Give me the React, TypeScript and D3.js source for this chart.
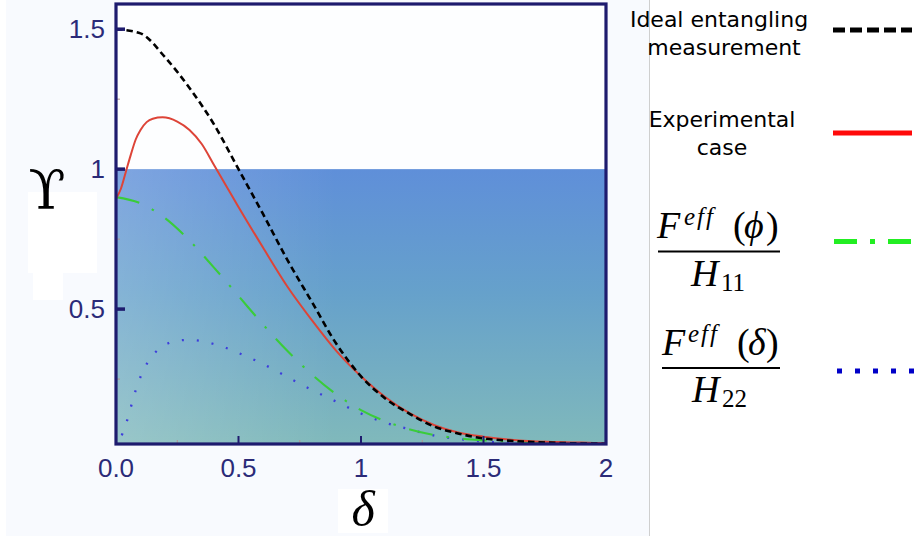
import React from 'react';
import * as d3 from 'd3';

// ---------- data ----------
const xTickValues = [0, 0.5, 1, 1.5, 2];
const xTickLabels = ['0.0', '0.5', '1', '1.5', '2'];
const xMinorTicks = [0.25, 0.75, 1.25, 1.75];
const yTickValues = [0.5, 1, 1.5];
const yTickLabels = ['0.5', '1', '1.5'];
const yMinorTicks = [0.25, 0.75, 1.25];
const classicalBound = 1;

// δ grid shared by the ideal (black) and F(φ)/H11 (green) curves
const gridDelta = [0, 0.1, 0.2, 0.3, 0.4, 0.5, 0.6, 0.7, 0.8, 0.9, 1.0, 1.1, 1.2, 1.3, 1.4, 1.5, 1.6, 1.7, 1.8, 1.9, 2.0];
const idealUpsilon = [1.5, 1.485, 1.4, 1.29, 1.16, 1.0, 0.84, 0.675, 0.525, 0.375, 0.26, 0.18, 0.125, 0.08, 0.055, 0.038, 0.03, 0.025, 0.022, 0.02, 0.019];
const phiUpsilon = [0.9, 0.878, 0.825, 0.745, 0.648, 0.547, 0.445, 0.35, 0.266, 0.195, 0.139, 0.099, 0.07, 0.05, 0.038, 0.031, 0.027, 0.024, 0.022, 0.021, 0.02];

// experimental case (red)
const expDelta = [0, 0.02, 0.04, 0.06, 0.08, 0.1, 0.125, 0.15, 0.19, 0.25, 0.3, 0.35, 0.4, 0.45, 0.5, 0.6, 0.7, 0.8, 0.9, 1.0, 1.1, 1.2, 1.3, 1.4, 1.5, 1.6, 1.7, 1.8, 1.9, 2.0];
const expUpsilon = [0.895, 0.93, 0.99, 1.05, 1.105, 1.14, 1.168, 1.18, 1.185, 1.17, 1.14, 1.09, 1.015, 0.94, 0.865, 0.72, 0.58, 0.46, 0.35, 0.26, 0.185, 0.127, 0.085, 0.058, 0.044, 0.034, 0.028, 0.025, 0.023, 0.021];

// F(δ)/H22 (blue)
const dDelta = [0, 0.015, 0.03, 0.05, 0.07, 0.09, 0.11, 0.15, 0.2, 0.25, 0.3, 0.35, 0.4, 0.45, 0.5, 0.6, 0.7, 0.8, 0.9, 1.0, 1.1, 1.2, 1.3, 1.4, 1.5, 1.6, 1.7, 1.8, 2.0];
const dUpsilon = [0.0, 0.03, 0.064, 0.115, 0.18, 0.235, 0.278, 0.335, 0.372, 0.387, 0.39, 0.386, 0.375, 0.361, 0.343, 0.304, 0.257, 0.211, 0.169, 0.127, 0.094, 0.07, 0.048, 0.036, 0.027, 0.022, 0.02, 0.019, 0.018];

const legendLine1 = ['Ideal entangling', 'measurement'];
const legendLine2 = ['Experimental', 'case'];

// ---------- layout ----------
const W = 914;
const H = 536;
const L = 116, R = 606, T = 4, B = 444;
const navy = '#1e1b6e';
const labelColor = '#2b2a78';

export default function App() {
  const x = d3.scaleLinear().domain([0, 2]).range([L, R]);
  const y = d3.scaleLinear().domain([0.018, 1.59]).range([B, T]);

  const line = d3.line<[number, number]>()
    .x(d => x(d[0]))
    .y(d => y(d[1]))
    .curve(d3.curveMonotoneX);

  const zip = (a: number[], b: number[]) => a.map((v, i) => [v, b[i]] as [number, number]);

  const idealPath = line(zip(gridDelta, idealUpsilon)) || '';
  const phiPath = line(zip(gridDelta, phiUpsilon)) || '';
  const expPath = line(zip(expDelta, expUpsilon)) || '';
  const dPath = line(zip(dDelta, dUpsilon)) || '';

  const serif = '"Liberation Serif", "DejaVu Serif", serif';
  const sans = '"Liberation Sans", Arial, sans-serif';

  return (
    <svg width={W} height={H} style={{ position: 'absolute', left: 0, top: 0, background: '#ffffff' }}
      xmlns="http://www.w3.org/2000/svg">
      <defs>
        <linearGradient id="fillV" x1="0" y1="0" x2="0" y2="1">
          <stop offset="0%" stopColor="#5f8fd9" />
          <stop offset="45%" stopColor="#66a1cb" />
          <stop offset="100%" stopColor="#80b9bb" />
        </linearGradient>
        <linearGradient id="fillH" x1="0" y1="0" x2="1" y2="0">
          <stop offset="0%" stopColor="#ffffff" stopOpacity="0.2" />
          <stop offset="45%" stopColor="#ffffff" stopOpacity="0" />
        </linearGradient>
        <clipPath id="plotClip">
          <rect x={L} y={T} width={R - L} height={B - T} />
        </clipPath>
      </defs>

      {/* left panel background */}
      <rect x={6} y={0} width={643} height={H} fill="#f8fafe" />
      <line x1={649.5} x2={649.5} y1={0} y2={H} stroke="#cfcfcf" strokeWidth={1} />

      {/* white boxes behind axis titles */}
      <rect x={28} y={192} width={69} height={81} fill="#ffffff" />
      <rect x={33} y={273} width={30} height={27} fill="#ffffff" />
      <rect x={338} y={489} width={50} height={44} fill="#ffffff" />

      {/* plot area */}
      <rect x={L} y={T} width={R - L} height={B - T} fill="#fdfeff" />
      <rect x={L} y={y(classicalBound)} width={R - L} height={B - y(classicalBound)} fill="url(#fillV)" />
      <rect x={L} y={y(classicalBound)} width={R - L} height={B - y(classicalBound)} fill="url(#fillH)" />

      {/* minor ticks */}
      {xMinorTicks.map(v => (
        <line key={'xm' + v} x1={x(v)} x2={x(v)} y1={B} y2={B - 4} stroke="#b09090" strokeWidth={1} />
      ))}
      {yMinorTicks.map(v => (
        <line key={'ym' + v} x1={L} x2={L + 4} y1={y(v)} y2={y(v)} stroke="#b09090" strokeWidth={1} />
      ))}

      {/* curves */}
      <g clipPath="url(#plotClip)" fill="none">
        <path d={dPath} stroke="#3d3ddc" strokeWidth={2.3} strokeDasharray="2 13" />
        <path d={phiPath} stroke="#3acc3a" strokeWidth={2.1} strokeDasharray="24 14 2.5 14" />
        <path d={expPath} stroke="#dd4438" strokeWidth={2} />
        <path d={idealPath} stroke="#000000" strokeWidth={2.6} strokeDasharray="6.5 4" />
      </g>

      {/* major ticks */}
      {xTickValues.filter(v => v > 0 && v < 2).map(v => (
        <line key={'xt' + v} x1={x(v)} x2={x(v)} y1={B} y2={B - 8} stroke={navy} strokeWidth={2} />
      ))}
      {yTickValues.map(v => (
        <line key={'yt' + v} x1={L} x2={L + 9} y1={y(v)} y2={y(v)} stroke={navy} strokeWidth={3.5} />
      ))}

      {/* frame */}
      <rect x={L} y={T} width={R - L} height={B - T} fill="none" stroke={navy} strokeWidth={3.2} />

      {/* tick labels */}
      {xTickValues.map((v, i) => (
        <text key={'xl' + v} x={x(v)} y={477} textAnchor="middle" fontFamily={sans}
          fontSize={26} fill={labelColor}>{xTickLabels[i]}</text>
      ))}
      {yTickValues.map((v, i) => (
        <text key={'yl' + v} x={105} y={y(v) + 9} textAnchor="end" fontFamily={sans}
          fontSize={26} fill={labelColor}>{yTickLabels[i]}</text>
      ))}

      {/* axis titles */}
      <text x={47} y={209} textAnchor="middle" fontFamily='"DejaVu Serif", serif' fontSize={54} fill="#000">ϒ</text>
      <text x={363} y={526} textAnchor="middle" fontFamily={serif} fontStyle="italic" fontSize={50} fill="#000">δ</text>

      {/* legend */}
      <g fontFamily='"DejaVu Sans", Verdana, sans-serif' fontSize={22} fill="#000" textAnchor="middle">
        <text x={719} y={27}>{legendLine1[0]}</text>
        <text x={724} y={55}>{legendLine1[1]}</text>
        <text x={722} y={127}>{legendLine2[0]}</text>
        <text x={722} y={155}>{legendLine2[1]}</text>
      </g>
      <line x1={833} x2={912} y1={30} y2={30} stroke="#000" strokeWidth={5} strokeDasharray="12 5" />
      <line x1={833} x2={912} y1={133} y2={133} stroke="#ff0a0a" strokeWidth={5} />
      <line x1={834} x2={912} y1={241.5} y2={241.5} stroke="#22ee22" strokeWidth={5} strokeDasharray="23 13 5 13" />
      <line x1={837} x2={914} y1={371} y2={371} stroke="#0000c8" strokeWidth={5} strokeDasharray="5 13" />

      {/* legend fractions */}
      <g fontFamily={serif} fill="#000">
        <text x={657} y={238} fontSize={38} fontStyle="italic">F</text>
        <text x={684} y={225} fontSize={25} fontStyle="italic" letterSpacing={2}>eff</text>
        <text x={733} y={238} fontSize={38}>(</text>
        <text x={744} y={238} fontSize={38} fontStyle="italic">ϕ</text>
        <text x={766} y={238} fontSize={38}>)</text>
        <line x1={658} x2={780} y1={251.5} y2={251.5} stroke="#000" strokeWidth={1.8} />
        <text x={691} y={286} fontSize={38} fontStyle="italic">H</text>
        <text x={721} y={291} fontSize={25}>11</text>

        <text x={662} y={355} fontSize={38} fontStyle="italic">F</text>
        <text x={688} y={342} fontSize={25} fontStyle="italic" letterSpacing={2}>eff</text>
        <text x={737} y={355} fontSize={38}>(</text>
        <text x={748} y={355} fontSize={38} fontStyle="italic">δ</text>
        <text x={766} y={355} fontSize={38}>)</text>
        <line x1={662} x2={780} y1={368} y2={368} stroke="#000" strokeWidth={1.8} />
        <text x={692} y={402} fontSize={38} fontStyle="italic">H</text>
        <text x={722} y={407} fontSize={25}>22</text>
      </g>
    </svg>
  );
}
